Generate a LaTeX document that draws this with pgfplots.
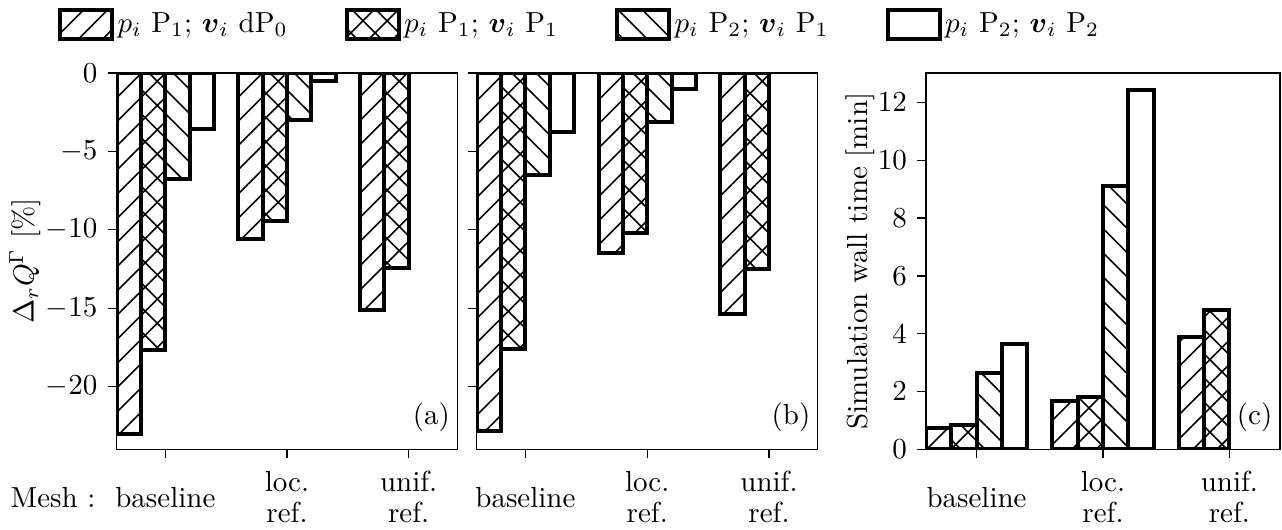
\documentclass[border=0pt]{standalone}
\usepackage{amsmath}
\usepackage{pgfplots}
\pgfplotsset{compat=1.18}
\usetikzlibrary{patterns,patterns.meta}

% 1 px of the reference = 0.3448pt
\pgfplotsset{
  panel/.style={
    scale only axis, anchor=north west,
    height=129.75pt,
    xmin=-0.4, xmax=2.4,
    xtick={0,1,2},
    xticklabels={baseline,{loc.\\ref.},{unif.\\ref.}},
    xticklabel style={align=center, anchor=center, yshift=-13.4pt,
      font=\fontsize{10}{10.7}\selectfont},
    tick align=outside,
    xtick pos=bottom, ytick pos=left,
    major tick length=3.1pt,
    tick style={black, line width=0.44pt},
    axis line style={line width=0.44pt},
    clip mode=individual,
    legend image code/.code={\draw[##1] (0pt,-5pt) rectangle (17.9pt,5pt);},
  },
  bar/.style={ybar, bar width=0.2, bar shift=0pt, draw=black, line width=1.38pt},
  hA/.style={bar, pattern={Lines[angle=45,distance=5.9pt,line width=0.55pt]}},
  hB/.style={bar, pattern={Hatch[angle=45,distance=5.9pt,line width=0.55pt]}},
  hC/.style={bar, pattern={Lines[angle=-45,distance=5.9pt,line width=0.55pt]}},
  hD/.style={bar, fill=white},
}

\begin{document}
\begin{tikzpicture}
\path[use as bounding box] (0pt,0pt) rectangle (442.03pt,-182.40pt);

% (a)
\begin{axis}[panel, at={(40.24pt,-25.17pt)}, width=117.44pt,
  ymin=-24.0, ymax=0, ytick={-20,-15,-10,-5,0},
  ylabel={$\Delta_r Q^{\Gamma}$ [\%]},
  ylabel style={at={(axis description cs:-0.269,0.5)}, anchor=center},
  legend cell align=left,
  legend columns=4,
  legend style={draw=none, fill=none, inner sep=0pt, outer sep=0pt,
    at={(axis description cs:0,1)}, anchor=west, xshift=-20.2pt, yshift=16.7pt,
    nodes={inner sep=1.2pt},
    /tikz/every even column/.append style={column sep=18.5pt}},
]
\addplot[hA] coordinates {(-0.3,-23.05) (0.7,-10.6) (1.7,-15.1)};
\addlegendentry{$p_i$ P$_1$; $\boldsymbol{v}_i$ dP$_0$}
\addplot[hB] coordinates {(-0.1,-17.65) (0.9,-9.45) (1.9,-12.45)};
\addlegendentry{$p_i$ P$_1$; $\boldsymbol{v}_i$ P$_1$}
\addplot[hC] coordinates {(0.1,-6.75) (1.1,-3.0)};
\addlegendentry{$p_i$ P$_2$; $\boldsymbol{v}_i$ P$_1$}
\addplot[hD] coordinates {(0.3,-3.6) (1.3,-0.5)};
\addlegendentry{$p_i$ P$_2$; $\boldsymbol{v}_i$ P$_2$}
\node[anchor=south east, inner sep=0pt] at (rel axis cs:0.98,0.045) {(a)};
\node[anchor=west, inner sep=0pt] at (axis description cs:-0.313,-0.127) {Mesh :};
\end{axis}

% (b)
\begin{axis}[panel, at={(164.37pt,-25.17pt)}, width=117.58pt,
  ymin=-24.0, ymax=0, ytick={-20,-15,-10,-5,0}, yticklabels={},
]
\addplot[hA] coordinates {(-0.3,-22.85) (0.7,-11.45) (1.7,-15.4)};
\addplot[hB] coordinates {(-0.1,-17.6) (0.9,-10.2) (1.9,-12.5)};
\addplot[hC] coordinates {(0.1,-6.5) (1.1,-3.1)};
\addplot[hD] coordinates {(0.3,-3.75) (1.3,-1.05)};
\node[anchor=south east, inner sep=0pt] at (rel axis cs:0.98,0.045) {(b)};
\end{axis}

% (c)
\begin{axis}[panel, at={(319.28pt,-25.17pt)}, width=122.06pt,
  ymin=0, ymax=13.02, ytick={0,2,4,6,8,10,12},
  ylabel={Simulation wall time [min]},
  ylabel style={at={(axis description cs:-0.186,0.5)}, anchor=center},
]
\addplot[hA] coordinates {(-0.3,0.74) (0.7,1.67) (1.7,3.87)};
\addplot[hB] coordinates {(-0.1,0.85) (0.9,1.82) (1.9,4.83)};
\addplot[hC] coordinates {(0.1,2.65) (1.1,9.11)};
\addplot[hD] coordinates {(0.3,3.63) (1.3,12.43)};
\node[anchor=south east, inner sep=0pt] at (rel axis cs:0.98,0.045) {(c)};
\end{axis}
\end{tikzpicture}
\end{document}
